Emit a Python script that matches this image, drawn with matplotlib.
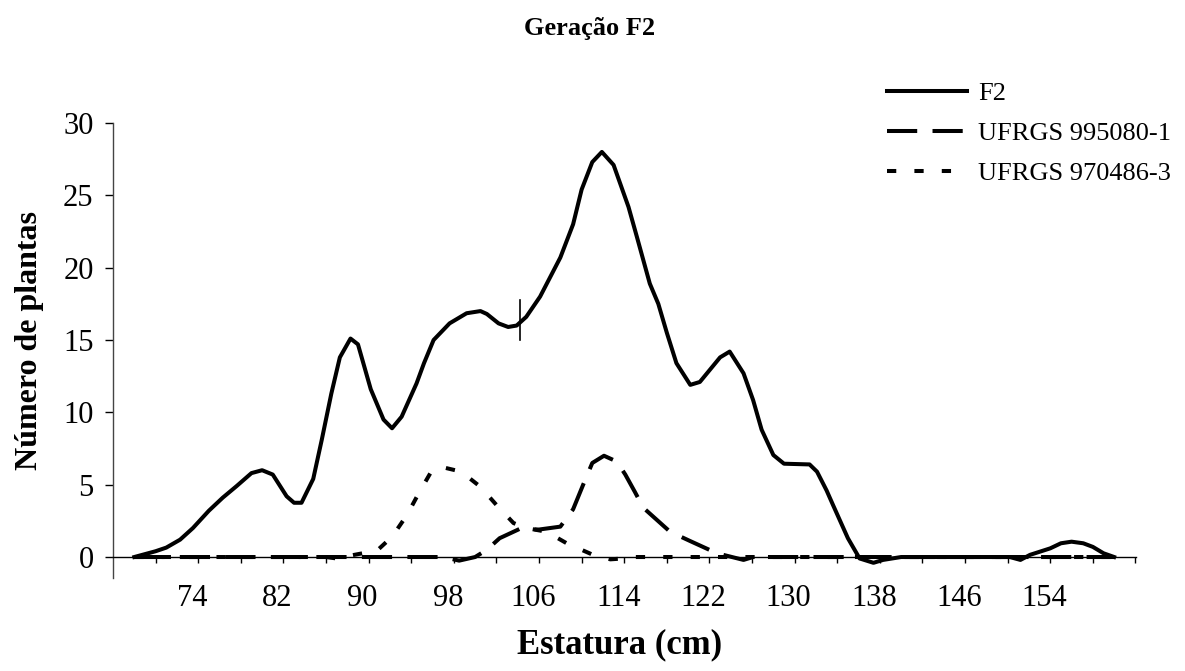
import numpy as np
import matplotlib
matplotlib.use("Agg")
import matplotlib.pyplot as plt
import matplotlib.transforms as mtransforms

plt.rcParams['font.family'] = ['Liberation Serif', 'DejaVu Serif']

# curva F2 (estatura em cm, número de plantas)
f2_x = [68, 70, 71, 72.3, 73.5, 75, 76.3, 77.6, 79, 80, 81, 82.3, 83, 83.7,
        84.8, 85.6, 86.5, 87.3, 88.3, 89, 90.2, 91.4, 92.2, 93.1, 94.5, 95.2,
        96.1, 97.6, 99.2, 100.5, 101.1, 102.2, 103.1, 103.9, 104.8, 106.1, 108,
        109.2, 110, 111, 111.9, 113, 114.4, 115.2, 116.4, 117.2, 118, 118.9,
        120.2, 121.1, 123, 123.9, 125.2, 126.1, 126.9, 128, 129, 131.4, 132.1,
        133, 133.6, 135, 136.1, 137.4, 138.3, 140, 150.2, 151.2, 152.1, 154,
        155, 156, 157.1, 158, 159, 160]
f2_y = [0, 0.4, 0.65, 1.2, 2.0, 3.2, 4.1, 4.9, 5.8, 6.0, 5.7, 4.2, 3.75, 3.75,
        5.4, 8.1, 11.3, 13.8, 15.1, 14.7, 11.6, 9.5, 8.9, 9.7, 12.0, 13.4,
        15.0, 16.15, 16.85, 17.0, 16.8, 16.15, 15.9, 16.0, 16.6, 18.0, 20.7,
        23.0, 25.4, 27.3, 28.0, 27.1, 24.2, 22.1, 18.9, 17.5, 15.5, 13.4,
        11.9, 12.1, 13.8, 14.2, 12.7, 10.85, 8.8, 7.05, 6.45, 6.4, 5.9,
        4.6, 3.6, 1.3, -0.1, -0.4, -0.2, 0, 0, -0.2, 0.15, 0.6,
        0.95, 1.06, 0.95, 0.7, 0.26, 0]

# UFRGS 995080-1
p1_x = [68, 97, 98.5, 100, 101.1, 102.3, 104.2, 106, 108, 109.2, 110.2, 111,
        112.1, 113.3, 114.1, 115, 115.8, 118.3, 120.2, 122.7, 125.2, 126.1, 160]
p1_y = [0, 0, -0.25, 0, 0.5, 1.3, 1.95, 1.9, 2.1, 3.3, 5.1, 6.5,
        7.0, 6.6, 5.7, 4.5, 3.4, 1.75, 1.1, 0.26, -0.2, 0, 0]

# UFRGS 970486-3
p2_x = [68, 86, 87, 88.3, 90.8, 92.2, 93.6, 94.7, 95.8, 96.7, 98.7, 100.5,
        102, 103.6, 104.8, 106.7, 108.6, 111.1, 112.7, 113.9, 115, 160]
p2_y = [0, 0, -0.1, 0.1, 0.45, 1.4, 2.9, 4.4, 5.8, 6.25, 5.9, 4.85,
        3.6, 2.35, 2.0, 1.75, 0.95, 0.14, -0.16, -0.1, 0, 0]

# marca vertical sobre a curva F2
marca_x = 104.2
marca_y = [15.0, 17.8]

ticks_x = list(range(70, 163, 4))
rotulos_x = [str(v) if (v - 74) % 8 == 0 and v <= 154 else '' for v in ticks_x]
ticks_y = list(range(0, 31, 5))

fig = plt.figure(figsize=(11.85, 6.71), dpi=100)
ax = fig.add_axes([113 / 1185, 1 - 578 / 671, (1136 - 113) / 1185, (578 - 123) / 671])

lw = 2.9
ax.plot(f2_x, f2_y, color='black', lw=lw, solid_joinstyle='round', label='F2')
ax.plot(p1_x, p1_y, color='black', lw=lw, linestyle=(0, (7.5, 3.8)),
        dash_capstyle='butt', label='UFRGS 995080-1')
ax.plot(p2_x, p2_y, color='black', lw=lw, linestyle=(0, (2.3, 4.5)),
        dash_capstyle='butt', label='UFRGS 970486-3')
ax.plot([marca_x, marca_x], marca_y, color='black', lw=1.2)

ax.set_xlim(66, 162.05)
ax.set_ylim(-1.45, 30)
ax.spines['top'].set_visible(False)
ax.spines['right'].set_visible(False)
ax.spines['bottom'].set_position(('data', 0))
ax.spines['bottom'].set_linewidth(1)
ax.spines['left'].set_linewidth(1)
ax.spines['left'].set_color('#444444')

ax.set_xticks(ticks_x)
ax.set_xticklabels(rotulos_x)
ax.set_yticks(ticks_y)
ax.tick_params(axis='x', direction='out', length=4.5, width=1, labelsize=22, pad=15)
ax.tick_params(axis='y', direction='out', length=6, width=1, labelsize=22, pad=8)

# rótulos do eixo x ficam um pouco à esquerda das marcas
desloc = mtransforms.ScaledTranslation(-6 / 100, 0, fig.dpi_scale_trans)
for lab in ax.get_xticklabels():
    lab.set_transform(lab.get_transform() + desloc)

fig.text(620 / 1185, 1 - 645 / 671, 'Estatura (cm)', ha='center', va='center',
         fontsize=25, fontweight='bold')
fig.text(30 / 1185, 1 - 340 / 671, 'Número de plantas', ha='center', va='center',
         rotation=90, fontsize=23, fontweight='bold')
fig.text(590 / 1185, 1 - 29 / 671, 'Geração F2', ha='center', va='center',
         fontsize=19, fontweight='bold')

ax.legend(loc='upper left', bbox_to_anchor=(887 / 1185, 1 - 82 / 671),
          bbox_transform=fig.transFigure, frameon=False, fontsize=19,
          handlelength=3.03, handletextpad=0.42, labelspacing=0.62,
          borderpad=0, borderaxespad=0)

fig.savefig('out.png', dpi=100)
